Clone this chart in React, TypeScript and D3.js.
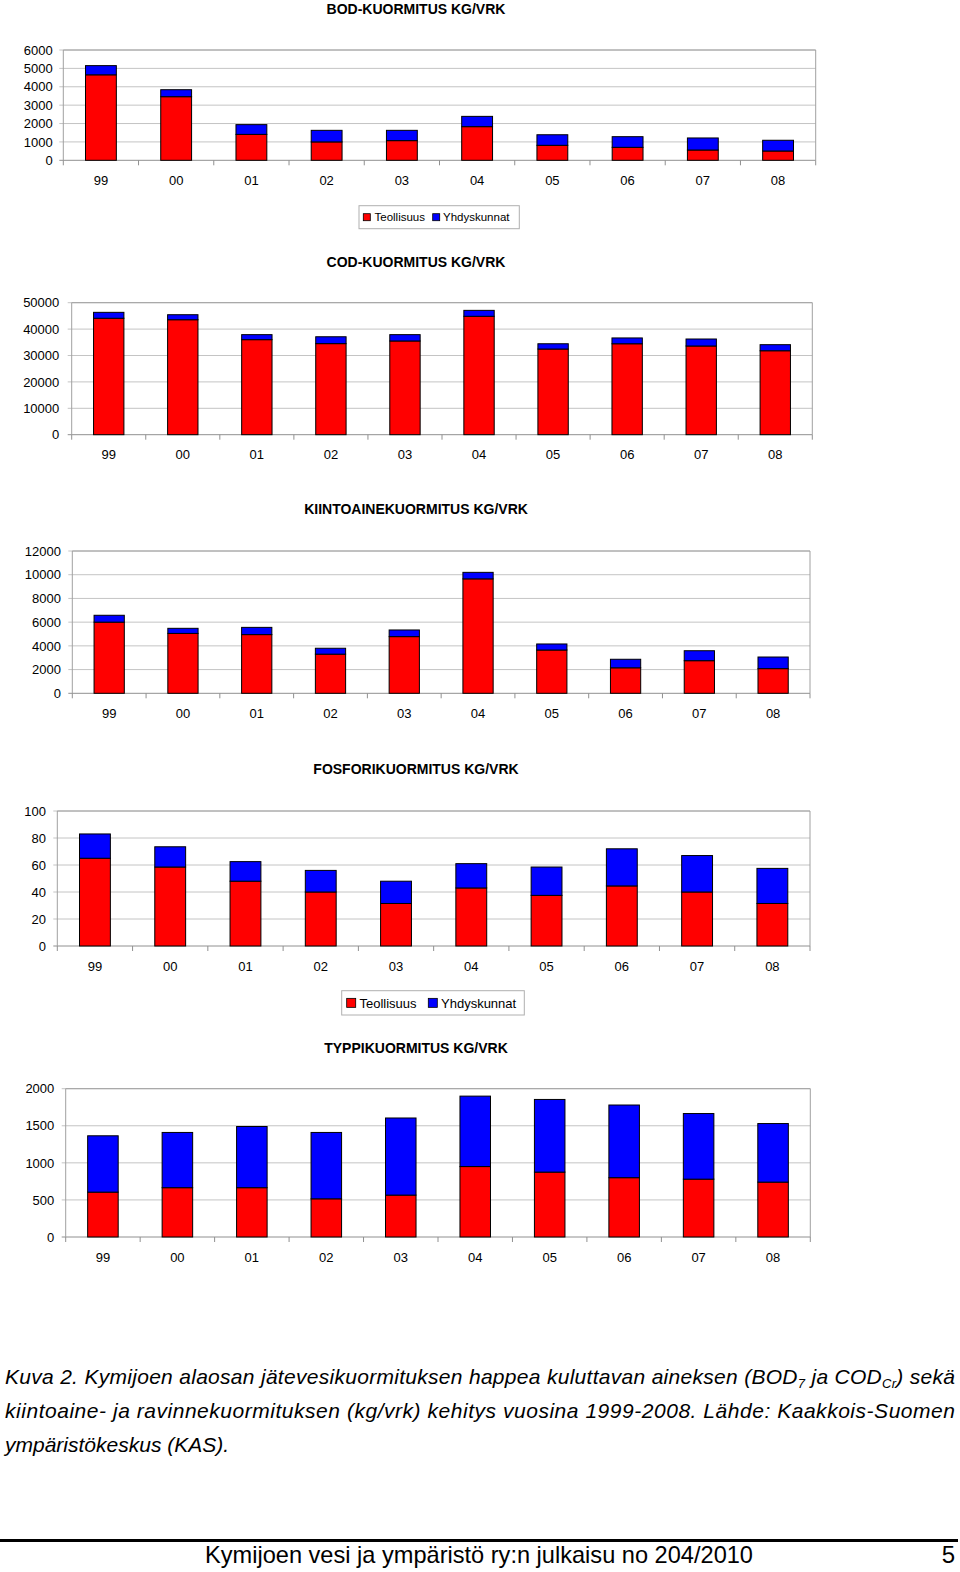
import React from 'react';
import * as d3 from 'd3';

const categories = ['99', '00', '01', '02', '03', '04', '05', '06', '07', '08'];
const seriesNames = ['Teollisuus', 'Yhdyskunnat'];

// BOD
const bodTeollisuus = [4650, 3460, 1410, 1000, 1070, 1830, 815, 705, 560, 505];
const bodYhdyskunnat = [500, 380, 530, 630, 560, 560, 575, 580, 655, 585];
const bodTicks = [0, 1000, 2000, 3000, 4000, 5000, 6000];
// COD
const codTeollisuus = [44100, 43550, 36000, 34500, 35500, 44850, 32450, 34450, 33600, 31800];
const codYhdyskunnat = [2250, 1900, 1900, 2600, 2400, 2250, 2000, 2200, 2650, 2300];
const codTicks = [0, 10000, 20000, 30000, 40000, 50000];
// Kiintoaine
const kiintoTeollisuus = [6000, 5050, 4950, 3300, 4780, 9650, 3650, 2150, 2750, 2080];
const kiintoYhdyskunnat = [580, 430, 610, 500, 560, 550, 510, 720, 840, 980];
const kiintoTicks = [0, 2000, 4000, 6000, 8000, 10000, 12000];
// Fosfori
const fosforiTeollisuus = [65, 58.5, 48, 40, 31.5, 43, 37.5, 44.5, 40, 31.5];
const fosforiYhdyskunnat = [18, 15, 14.5, 16, 16.5, 18, 21, 27.5, 27, 26];
const fosforiTicks = [0, 20, 40, 60, 80, 100];
// Typpi
const typpiTeollisuus = [605, 665, 665, 515, 565, 950, 875, 800, 780, 740];
const typpiYhdyskunnat = [760, 745, 825, 895, 1040, 950, 980, 980, 885, 790];
const typpiTicks = [0, 500, 1000, 1500, 2000];

const titles = [
  'BOD-KUORMITUS KG/VRK',
  'COD-KUORMITUS KG/VRK',
  'KIINTOAINEKUORMITUS KG/VRK',
  'FOSFORIKUORMITUS KG/VRK',
  'TYPPIKUORMITUS KG/VRK',
];

const RED = '#ff0000';
const BLUE = '#0000ff';
const FONT = "'Liberation Sans', Arial, Helvetica, sans-serif";

type Legend = { x: number; y: number; w: number; h: number; fs: number; sq: number; tx: number[]; sx: number[] };

type ChartProps = {
  title: string;
  titleY: number;
  x0: number; x1: number; y0: number; y1: number;
  ticks: number[];
  red: number[];
  blue: number[];
  labelRight: number;
  legend?: Legend;
};

function StackChart(p: ChartProps) {
  const x = d3.scaleBand<string>().domain(categories).range([p.x0, p.x1]).paddingInner(0).paddingOuter(0);
  const y = d3.scaleLinear().domain([0, p.ticks[p.ticks.length - 1]]).range([p.y1, p.y0]);
  const rows = categories.map((c, i) => ({ cat: c, Teollisuus: p.red[i], Yhdyskunnat: p.blue[i] }));
  const stack = d3.stack<any>().keys(seriesNames)(rows);
  const bw = x.bandwidth() * 0.41;
  const colors = [RED, BLUE];
  const boundaries = categories.map((c) => x(c)!).concat([p.x1]);
  return (
    <g>
      <text x={416} y={p.titleY} textAnchor="middle" fontFamily={FONT} fontWeight="bold" fontSize={14}>{p.title}</text>
      {p.ticks.map((t) => (
        <g key={t}>
          <line x1={p.x0 - 4} x2={p.x1} y1={y(t)} y2={y(t)} stroke={t === 0 ? '#909090' : '#c4c4c4'} strokeWidth={1} />
          <text x={p.labelRight} y={y(t)} dy="0.36em" textAnchor="end" fontFamily={FONT} fontSize={13}>{t}</text>
        </g>
      ))}
      <line x1={p.x0} x2={p.x0} y1={p.y0} y2={p.y1} stroke="#a0a0a0" />
      <line x1={p.x1} x2={p.x1} y1={p.y0} y2={p.y1} stroke="#a0a0a0" />
      <line x1={p.x0} x2={p.x1} y1={p.y0} y2={p.y0} stroke="#a0a0a0" />
      {boundaries.map((b, i) => (
        <line key={i} x1={b} x2={b} y1={p.y1} y2={p.y1 + 5} stroke="#909090" />
      ))}
      {stack.map((s, si) => (
        <g key={s.key}>
          {s.map((d, i) => (
            <rect
              key={i}
              x={x(categories[i])! + (x.bandwidth() - bw) / 2}
              y={y(d[1])}
              width={bw}
              height={y(d[0]) - y(d[1])}
              fill={colors[si]}
              stroke="#000"
              strokeWidth={1}
            />
          ))}
        </g>
      ))}
      {categories.map((c) => (
        <text key={c} x={x(c)! + x.bandwidth() / 2} y={p.y1 + 20} dy="0.36em" textAnchor="middle" fontFamily={FONT} fontSize={13}>{c}</text>
      ))}
      {p.legend && (
        <g>
          <rect x={p.legend.x} y={p.legend.y} width={p.legend.w} height={p.legend.h} fill="#fff" stroke="#b0b0b0" />
          {seriesNames.map((n, i) => (
            <g key={n}>
              <rect
                x={p.legend!.sx[i]}
                y={p.legend!.y + p.legend!.h / 2 - p.legend!.sq / 2}
                width={p.legend!.sq}
                height={p.legend!.sq}
                fill={colors[i]}
                stroke="#000"
                strokeWidth={0.8}
              />
              <text x={p.legend!.tx[i]} y={p.legend!.y + p.legend!.h / 2} dy="0.36em" fontFamily={FONT} fontSize={p.legend!.fs}>{n}</text>
            </g>
          ))}
        </g>
      )}
    </g>
  );
}

export default function App() {
  return (
    <svg width={960} height={1572} style={{ position: 'absolute', left: 0, top: 0, background: '#fff' }}>
      <rect x={0} y={0} width={960} height={1572} fill="#fff" />
      <StackChart
        title={titles[0]} titleY={13.5}
        x0={63.3} x1={815.7} y0={50} y1={160.3}
        ticks={bodTicks} red={bodTeollisuus} blue={bodYhdyskunnat} labelRight={52.7}
        legend={{ x: 359, y: 205.7, w: 160.3, h: 23, fs: 11.5, sq: 7, sx: [363.3, 432.7], tx: [374.5, 443] }}
      />
      <StackChart
        title={titles[1]} titleY={267}
        x0={71.7} x1={812.3} y0={302.7} y1={434.7}
        ticks={codTicks} red={codTeollisuus} blue={codYhdyskunnat} labelRight={59.3}
      />
      <StackChart
        title={titles[2]} titleY={514.3}
        x0={72.3} x1={810} y0={551} y1={693.3}
        ticks={kiintoTicks} red={kiintoTeollisuus} blue={kiintoYhdyskunnat} labelRight={61}
      />
      <StackChart
        title={titles[3]} titleY={774.3}
        x0={57.3} x1={810} y0={811} y1={946}
        ticks={fosforiTicks} red={fosforiTeollisuus} blue={fosforiYhdyskunnat} labelRight={46}
        legend={{ x: 341.7, y: 990.7, w: 182.6, h: 24.3, fs: 13, sq: 9, sx: [346.7, 428.3], tx: [359.5, 441] }}
      />
      <StackChart
        title={titles[4]} titleY={1052.7}
        x0={65.7} x1={810.3} y0={1088.7} y1={1237}
        ticks={typpiTicks} red={typpiTeollisuus} blue={typpiYhdyskunnat} labelRight={54.3}
      />
      <g fontFamily={FONT} fontStyle="italic" fontSize={21}>
        <text x={5} y={1384} textLength={950} lengthAdjust="spacing">
          Kuva 2. Kymijoen alaosan jätevesikuormituksen happea kuluttavan aineksen (BOD
          <tspan fontSize={13} dy={4}>7</tspan>
          <tspan dy={-4}> ja COD</tspan>
          <tspan fontSize={13} dy={4}>Cr</tspan>
          <tspan dy={-4}>) sekä</tspan>
        </text>
        <text x={5} y={1418} textLength={950} lengthAdjust="spacing">
          kiintoaine- ja ravinnekuormituksen (kg/vrk) kehitys vuosina 1999-2008. Lähde: Kaakkois-Suomen
        </text>
        <text x={5} y={1452}>ympäristökeskus (KAS).</text>
      </g>
      <rect x={0} y={1539} width={958} height={3} fill="#000" />
      <text x={205} y={1563} textLength={548} lengthAdjust="spacingAndGlyphs" fontFamily={FONT} fontSize={24}>
        Kymijoen vesi ja ympäristö ry:n julkaisu no 204/2010
      </text>
      <text x={955} y={1563} textAnchor="end" fontFamily={FONT} fontSize={24}>5</text>
    </svg>
  );
}
